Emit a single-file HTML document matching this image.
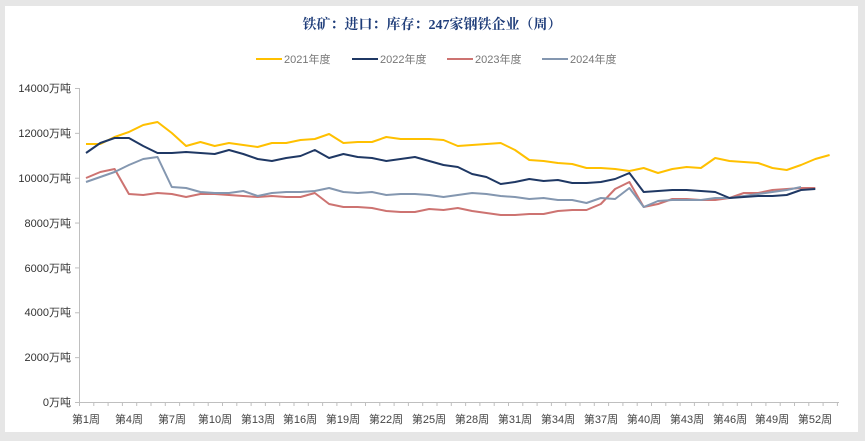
<!DOCTYPE html>
<html><head><meta charset="utf-8">
<style>
html,body{margin:0;padding:0;background:#e6e6e6;}
body{width:865px;height:441px;overflow:hidden;position:relative;font-family:"Liberation Sans","Noto Sans CJK SC",sans-serif;}
#panel{position:absolute;left:5px;top:6px;width:853px;height:426px;background:#fff;}
svg{position:absolute;left:0;top:0;}
</style></head><body>
<div id="panel"></div>
<svg id="s" width="865" height="441" xmlns="http://www.w3.org/2000/svg">
<text x="432" y="29" text-anchor="middle" font-size="14" font-weight="bold" fill="#1f3d7a" font-family="Liberation Serif,Noto Serif CJK SC,serif">铁矿：进口：库存：247家钢铁企业（周）</text>
<g font-size="11" fill="#777">
<line x1="256" y1="59" x2="282" y2="59" stroke="#ffc000" stroke-width="2"/><text x="284" y="63">2021年度</text>
<line x1="352" y1="59" x2="378" y2="59" stroke="#1f3864" stroke-width="2"/><text x="380" y="63">2022年度</text>
<line x1="447" y1="59" x2="473" y2="59" stroke="#c0504d" stroke-opacity="0.8" stroke-width="2"/><text x="475" y="63">2023年度</text>
<line x1="542" y1="59" x2="568" y2="59" stroke="#8497b0" stroke-width="2"/><text x="570" y="63">2024年度</text>
</g>
<g font-size="11" fill="#333" text-anchor="end">
<text x="71" y="92">14000万吨</text>
<text x="71" y="137">12000万吨</text>
<text x="71" y="182">10000万吨</text>
<text x="71" y="227">8000万吨</text>
<text x="71" y="272">6000万吨</text>
<text x="71" y="316">4000万吨</text>
<text x="71" y="361">2000万吨</text>
<text x="71" y="406">0万吨</text>
</g>
<g font-size="11" fill="#444" text-anchor="middle">
<text x="86" y="423">第1周</text><text x="129" y="423">第4周</text><text x="172" y="423">第7周</text>
<text x="215" y="423">第10周</text><text x="258" y="423">第13周</text><text x="300" y="423">第16周</text>
<text x="343" y="423">第19周</text><text x="386" y="423">第22周</text><text x="429" y="423">第25周</text>
<text x="472" y="423">第28周</text><text x="515" y="423">第31周</text><text x="558" y="423">第34周</text>
<text x="601" y="423">第37周</text><text x="644" y="423">第40周</text><text x="687" y="423">第43周</text>
<text x="730" y="423">第46周</text><text x="772" y="423">第49周</text><text x="815" y="423">第52周</text>
</g>
<g id="axes" stroke="#bfbfbf" stroke-width="1">
<line x1="79.5" y1="88" x2="79.5" y2="402"/>
<line x1="79" y1="402.5" x2="839" y2="402.5"/>
</g>
</svg>
<script>
var s=document.getElementById('s'),ns='http://www.w3.org/2000/svg';
var ax=document.getElementById('axes');
function ln(x1,y1,x2,y2){var l=document.createElementNS(ns,'line');l.setAttribute('x1',x1);l.setAttribute('y1',y1);l.setAttribute('x2',x2);l.setAttribute('y2',y2);ax.appendChild(l);}
for(var i=0;i<8;i++){var y=402.5-i*44.86;ln(75,y,79,y);}
for(var i=0;i<=53;i++){var x=79.5+i*14.3;if(x>839)break;ln(x,402,x,406);}
function X(w){return 86+(w-1)*14.3;}
var Y=[144,144,137,132,125,122,133,146,142,146,143,145,147,143,143,140,139,134,143,142,142,137,139,139,139,140,146,145,144,143,150,160,161,163,164,168,168,169,171,168,173,169,167,168,158,161,162,163,168,170,165,159,155];
var N=[153,143,138,138,146,153,153,152,153,154,150,154,159,161,158,156,150,158,154,157,158,161,159,157,161,165,167,174,177,184,182,179,181,180,183,183,182,179,173,192,191,190,190,191,192,198,197,196,196,195,190,189];
var R=[178,172,169,194,195,193,194,197,194,194,195,196,197,196,197,197,193,204,207,207,208,211,212,212,209,210,208,211,213,215,215,214,214,211,210,210,204,189,182,207,204,199,199,200,200,198,193,193,190,189,188,188];
var B=[182,177,172,165,159,157,187,188,192,193,193,191,196,193,192,192,191,188,192,193,192,195,194,194,195,197,195,193,194,196,197,199,198,200,200,203,198,199,188,207,201,200,200,200,198,198,196,194,192,190,187];
function pl(d,c,o){var p=document.createElementNS(ns,'polyline');p.setAttribute('points',d.map(function(v,i){return X(i+1)+','+v}).join(' '));p.setAttribute('fill','none');p.setAttribute('stroke',c);p.setAttribute('stroke-width','2');p.setAttribute('stroke-opacity',o);p.setAttribute('stroke-linejoin','round');s.appendChild(p);}
pl(R,'#c0504d',0.8);pl(B,'#8497b0',1);pl(Y,'#ffc000',1);pl(N,'#1f3864',1);
</script>
</body></html>
